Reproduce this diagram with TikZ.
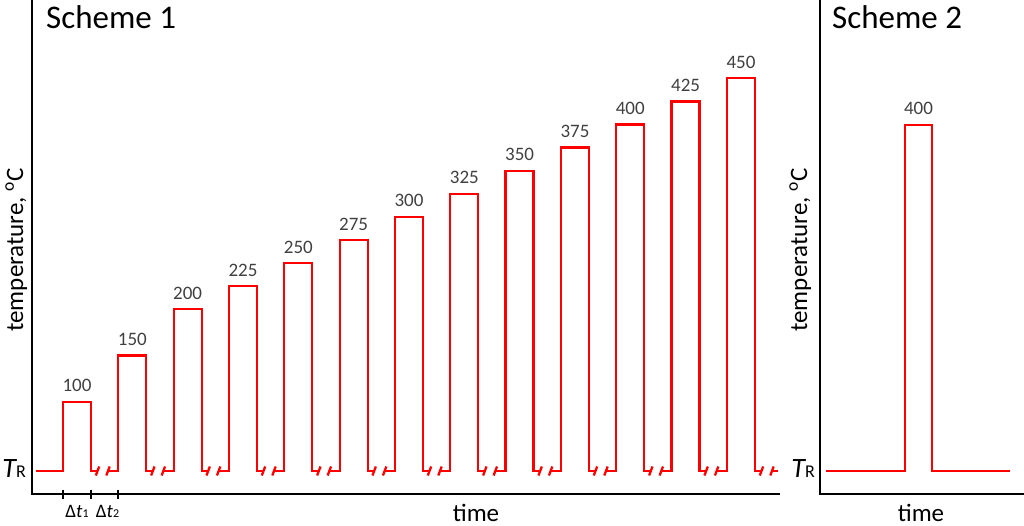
\documentclass[tikz,border=0pt]{standalone}
\usepackage{fontspec}
\setmainfont{Carlito}
\begin{document}
\begin{tikzpicture}[x=1pt,y=-1pt,
  pulse/.style={red, line width=2.3pt, line join=miter},
  axisline/.style={black, line width=2.7pt, line join=miter},
  val/.style={text=black!75, font=\fontsize{19}{19}\selectfont, inner sep=0pt, anchor=base},
  title/.style={font=\fontsize{33}{33}\selectfont, inner sep=0pt, anchor=base west},
  axlabel/.style={font=\fontsize{25}{25}\selectfont, inner sep=0pt},
  tick/.style={black, line width=2.2pt}]
\useasboundingbox (0,0) rectangle (1024,526);
% axes
\draw[axisline] (32,0) -- (32,494) -- (780,494);
\draw[axisline] (820,0) -- (820,494) -- (1024,494);
% ticks
\foreach \tx in {63,91,118} \draw[tick] (\tx,489.5) -- (\tx,498.5);
% scheme 1 pulses
\draw[pulse] (36,471) -- (63,471);
\foreach \T [count=\i from 0] in {100,150,200,225,250,275,300,325,350,375,400,425,450} {
  \pgfmathsetmacro\xr{63+55.33*\i}
  \pgfmathsetmacro\xf{\xr+28}
  \pgfmathsetmacro\yt{471-(\T-25)*0.924}
  \draw[pulse] (\xr-10.33,471) -- (\xr,471) -- (\xr,\yt) -- (\xf,\yt) -- (\xf,471) -- (\xf+6.5,471);
  \draw[pulse] (\xf+4.8,475.5) -- (\xf+8.2,466.5);
  \draw[pulse] (\xf+15.3,475.5) -- (\xf+18.7,466.5);
  \node[val] (v\i) at (\xr+14,\yt-10) {\T};
}
\draw[pulse] (772,471) -- (778,471);
% scheme 2 pulse
\draw[pulse] (826,471) -- (905,471) -- (905,125) -- (932,125) -- (932,471) -- (1010,471);
\node[val] (v2) at (918.5,115) {400};
% titles
\node[title] (s1) at (46,29) {Scheme 1};
\node[title] (s2) at (832,29) {Scheme 2};
% axis labels
\node[axlabel, rotate=90, anchor=base] (yl1) at (23,250) {temperature, \textsuperscript{o}C};
\node[axlabel, rotate=90, anchor=base] (yl2) at (807,250) {temperature, \textsuperscript{o}C};
\node[axlabel, anchor=base] (xl1) at (476,521) {time};
\node[axlabel, anchor=base] (xl2) at (921,521) {time};
% T_R
\node[inner sep=0pt, anchor=base east] (tr1) at (26,477) {\fontsize{28}{28}\selectfont\itshape T\fontsize{18}{18}\selectfont\upshape R};
\node[inner sep=0pt, anchor=base east] (tr2) at (815,477) {\fontsize{28}{28}\selectfont\itshape T\fontsize{18}{18}\selectfont\upshape R};
% delta t
\node[inner sep=0pt, anchor=base] (dt1) at (77,517) {\fontsize{19}{19}\selectfont Δ\textit{t}\fontsize{12}{12}\selectfont 1};
\node[inner sep=0pt, anchor=base] (dt2) at (107.5,517) {\fontsize{19}{19}\selectfont Δ\textit{t}\fontsize{12}{12}\selectfont 2};
\end{tikzpicture}
\end{document}
